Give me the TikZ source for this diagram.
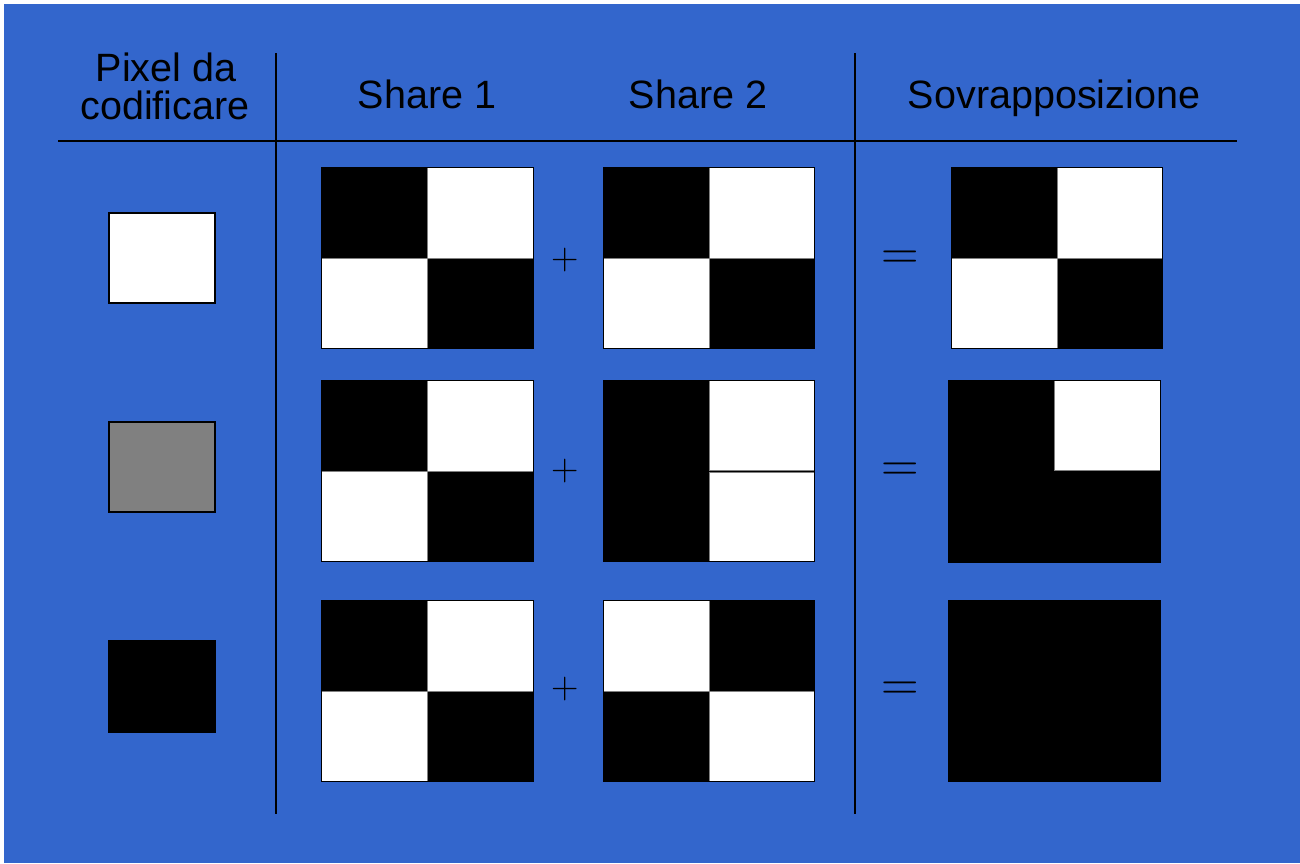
\documentclass[tikz,border=0pt]{standalone}
\usepackage[no-math]{fontspec}
\setmainfont{Liberation Sans}
\newfontfamily\opfont{Latin Modern Roman}
\definecolor{bg}{RGB}{51,102,204}
\definecolor{cellgray}{RGB}{128,128,128}
\tikzset{
  rule/.style={line width=2pt, black},
  head/.style={anchor=base, inner sep=0pt, font=\fontsize{39.5}{38}\selectfont, align=center},
  plusop/.style={inner sep=0pt, font=\opfont\fontsize{38}{38}\selectfont},
  eqop/.style={inner sep=0pt, font=\opfont\fontsize{52}{52}\selectfont},
  wcell/.style={fill=white, draw=cellgray, line width=1pt},
  frame/.style={draw=black, line width=1pt},
  pix/.style={draw=black, line width=2pt}
}
\begin{document}
\begin{tikzpicture}[x=1pt,y=-1pt]
\useasboundingbox (0,0) rectangle (1300,863);
\fill[white] (0,0) rectangle (1300,863);
\fill[bg] (4,4) rectangle (1300,863);

% rules
\draw[rule] (276,53) -- (276,814);
\draw[rule] (855,53) -- (855,814);
\draw[rule] (58,141) -- (1237,141);

% headers
\node[head] (h0) at (166,81) {Pixel da};
\node[head] (h0b) at (165,119) {codificare};
\node[head] (h1) at (427,108) {Share 1};
\node[head] (h2) at (698,108) {Share 2};
\node[head] (h3) at (1054,108) {Sovrapposizione};

% pixels to encode
\draw[pix, fill=white] (109,213) rectangle (215,303);
\draw[pix, fill=cellgray] (109,422) rectangle (215,512);
\draw[pix, fill=black] (109,641) rectangle (215,732);

% ---------- Row 1 ----------
\fill[black] (321,167) rectangle (533,348);
\draw[wcell] (427,167) rectangle (533,258);
\draw[wcell] (321,258) rectangle (427,348);
\draw[frame] (321,167) rectangle (533,348);
\fill[black] (603,167) rectangle (814,348);
\draw[wcell] (709,167) rectangle (814,258);
\draw[wcell] (603,258) rectangle (709,348);
\draw[frame] (603,167) rectangle (814,348);
\fill[black] (951,167) rectangle (1162,348);
\draw[wcell] (1057,167) rectangle (1162,258);
\draw[wcell] (951,258) rectangle (1057,348);
\draw[frame] (951,167) rectangle (1162,348);

% ---------- Row 2 ----------
\fill[black] (321,380) rectangle (533,561);
\draw[wcell] (427,380) rectangle (533,471);
\draw[wcell] (321,471) rectangle (427,561);
\draw[frame] (321,380) rectangle (533,561);
\fill[black] (603,380) rectangle (814,561);
\draw[wcell] (709,380) rectangle (814,470);
\draw[wcell] (709,472) rectangle (814,561);
\draw[frame] (603,380) rectangle (814,561);
\fill[black] (948,380) rectangle (1160,562);
\draw[wcell] (1054,380) rectangle (1160,470);
\draw[frame] (948,380) rectangle (1160,562);

% ---------- Row 3 ----------
\fill[black] (321,600) rectangle (533,781);
\draw[wcell] (427,600) rectangle (533,691);
\draw[wcell] (321,691) rectangle (427,781);
\draw[frame] (321,600) rectangle (533,781);
\fill[black] (603,600) rectangle (814,781);
\draw[wcell] (603,600) rectangle (709,691);
\draw[wcell] (709,691) rectangle (814,781);
\draw[frame] (603,600) rectangle (814,781);
\fill[black] (948,600) rectangle (1160,781);
\draw[frame] (948,600) rectangle (1160,781);

% operators
\node[plusop] (p1) at (565,260) {+};
\node[plusop] (p2) at (565,471) {+};
\node[plusop] (p3) at (565,689) {+};
\node[eqop] (e1) at (900,260) {=};
\node[eqop] (e2) at (900,472) {=};
\node[eqop] (e3) at (900,691) {=};
\end{tikzpicture}
\end{document}
